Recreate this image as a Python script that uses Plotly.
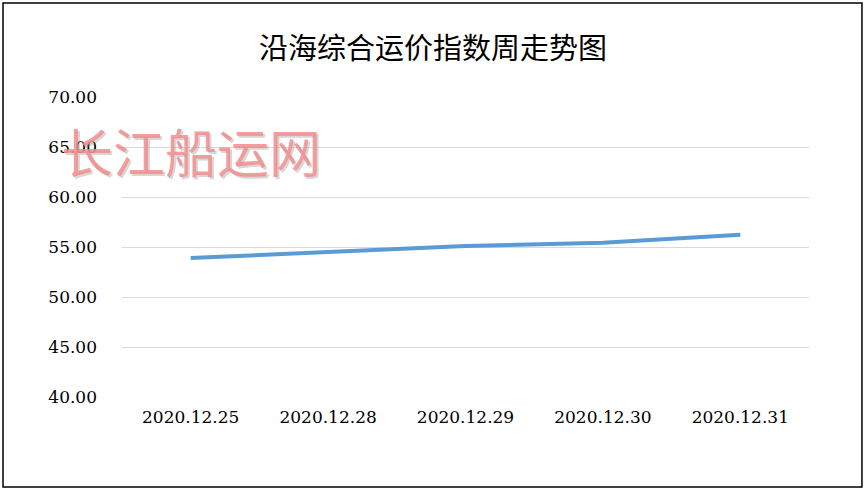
import plotly.graph_objects as go

# weekly coastal freight index
dates = ["2020.12.25", "2020.12.28", "2020.12.29", "2020.12.30", "2020.12.31"]
index_values = [53.90, 54.52, 55.10, 55.42, 56.22]
y_ticks = [40, 45, 50, 55, 60, 65, 70]
y_tick_text = [f"{v:.2f}" for v in y_ticks]

title = "沿海综合运价指数周走势图"
watermark = "长江船运网"

fig = go.Figure()
fig.add_trace(go.Scatter(
    x=dates, y=index_values, mode="lines",
    line=dict(color="#5b9bd5", width=4),
    hoverinfo="x+y", showlegend=False,
))

tick_font = dict(family="DejaVu Serif", size=17, color="black")

fig.update_layout(
    width=866, height=491,
    paper_bgcolor="white", plot_bgcolor="white",
    margin=dict(l=122, r=57, t=97, b=94, autoexpand=False),
    title=dict(text=title, x=0.5, xanchor="center", y=1 - 49 / 491, yanchor="middle",
               font=dict(family="Noto Sans CJK SC", size=29, color="black")),
    xaxis=dict(type="category", range=[-0.5, 4.5], showgrid=False, zeroline=False,
               showline=False, ticks="", tickfont=tick_font, ticklabelstandoff=8),
    yaxis=dict(range=[40, 70], tickvals=y_ticks, ticktext=y_tick_text,
               showgrid=True, gridcolor="#d9d9d9", gridwidth=1,
               zeroline=False, showline=False, ticks="",
               tickfont=tick_font, ticklabelstandoff=24),
)

# outer chart border
fig.add_shape(type="rect", xref="paper", yref="paper",
              x0=-0.1732, x1=1.0771, y0=-0.30, y1=1.3133,
              line=dict(color="black", width=1.5), layer="below")

# watermark with soft shadow
for dx, dy, col in [(2, -2, "rgba(140,140,140,0.35)"), (0, 0, "rgba(242,140,140,0.85)")]:
    fig.add_annotation(
        text=watermark, xref="paper", yref="paper", x=0.1, y=0.823,
        xanchor="center", yanchor="middle",
        xshift=dx, yshift=dy, showarrow=False,
        font=dict(family="Noto Sans CJK SC", size=52, color=col),
    )

# drop the default page margin so the figure sits at the window corner
fig.write_html("out.html", config={"displayModeBar": False},
               post_script="document.body.style.margin='0';")
